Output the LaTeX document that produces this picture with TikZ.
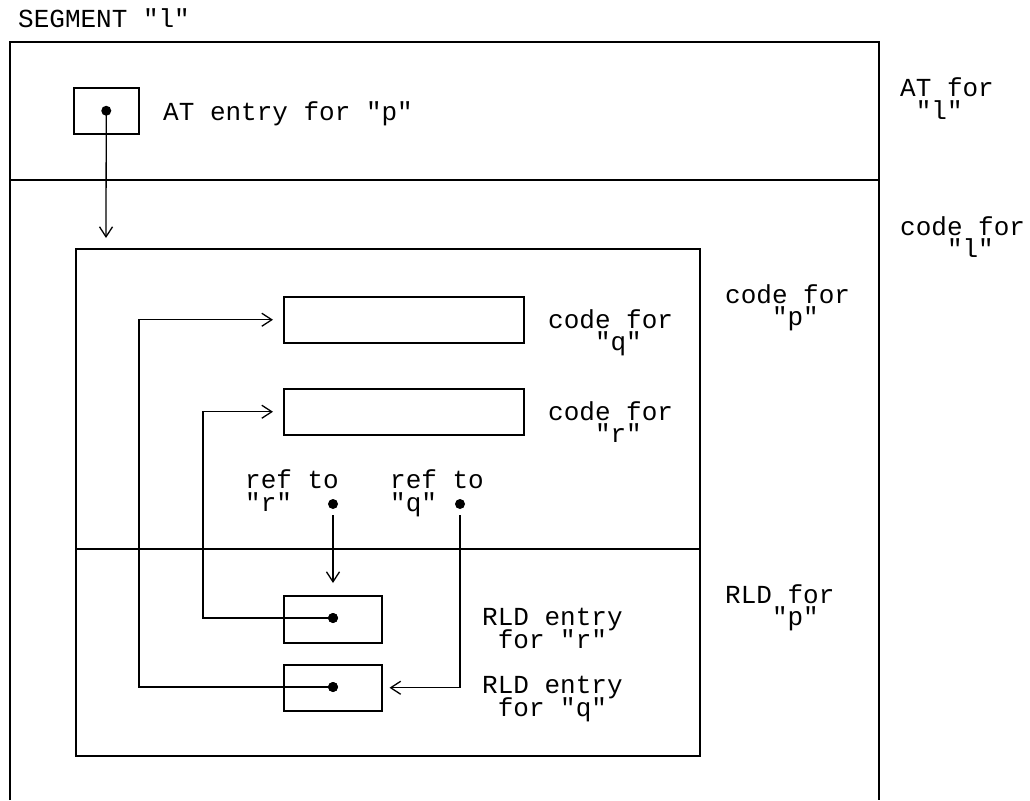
\documentclass[tikz,border=0pt]{standalone}
\usepackage{fontspec}
\setmonofont{Liberation Mono}
\usetikzlibrary{arrows.meta}
\begin{document}
\begin{tikzpicture}[x=1pt,y=-1pt,
  ln/.style={line width=1.5pt},
  box/.style={draw,line width=1.5pt,inner sep=0pt,anchor=north west},
  pt/.style={circle,fill=black,inner sep=0pt,minimum size=10pt},
  txt/.style={anchor=base west,inner sep=0pt,font=\ttfamily\fontsize{26}{26}\selectfont},
  arr/.style={line width=1.3pt,-{Straight Barb[length=10pt,width=13pt,line width=1.3pt]}}]
\useasboundingbox (0,0) rectangle (1030,800);
% outer segment frame (bottom edge off the page)
\draw[ln] (10,800) -- (10,42) -- (879,42) -- (879,800);
\draw[ln] (10,180) -- (879,180);
% inner box for code of p
\node[box,minimum width=624pt,minimum height=507pt] (inner) at (75,248) {};
\draw[ln] (75,549) -- (699,549);
% AT entry
\node[box,minimum width=65pt,minimum height=46pt] (atbox) at (73,87) {};
\node[pt] (atdot) at (atbox.center) {};
\coordinate (atend) at (106,238);
% code boxes
\node[box,minimum width=240pt,minimum height=46pt] (cq) at (283,296) {};
\node[box,minimum width=240pt,minimum height=46pt] (cr) at (283,388) {};
% RLD entry boxes
\node[box,minimum width=98pt,minimum height=47pt] (rr) at (283,595) {};
\node[box,minimum width=98pt,minimum height=46pt] (rq) at (283,664) {};
\node[pt] (drr) at (333,618) {};
\node[pt] (drq) at (333,687) {};
% ref dots
\node[pt] (refr) at (333,504) {};
\node[pt] (refq) at (460,504) {};
% texts
\node[txt] (seg) at (18,28) {SEGMENT "l"};
\node[txt] (atentry) at (163,120) {AT entry for "p"};
\node[txt] (atl1) at (900,96) {AT for};
\node[txt] (atl2) at (915.6,119) {"l"};
\node[txt] (codel1) at (900,235) {code for};
\node[txt] (codel2) at (946.8,257) {"l"};
\node[txt] (codeq1) at (548,328) {code for};
\node[txt] (codeq2) at (594.8,350) {"q"};
\node[txt] (coder1) at (548,420) {code for};
\node[txt] (coder2) at (594.8,442) {"r"};
\node[txt] (codep1) at (725,303) {code for};
\node[txt] (codep2) at (771.8,325) {"p"};
\node[txt] (rldp1) at (725,603) {RLD for};
\node[txt] (rldp2) at (771.8,625) {"p"};
\node[txt] (refr1) at (245,488) {ref to};
\node[txt] (refr2) at (245,511) {"r"};
\node[txt] (refq1) at (390,488) {ref to};
\node[txt] (refq2) at (390,511) {"q"};
\node[txt] (rer1) at (482,625) {RLD entry};
\node[txt] (rer2) at (497.6,648) {for "r"};
\node[txt] (req1) at (482,693) {RLD entry};
\node[txt] (req2) at (497.6,716) {for "q"};
% connectors
\draw[arr] (atdot.center) -- (atend);
\draw[arr,shorten >=10pt] (drq.center) -- (139,687) |- (cq.west);
\draw[arr,shorten >=10pt] (drr.center) -- (203,618) |- (cr.west);
\draw[arr,shorten <=6pt,shorten >=12pt] (refr.south) -- (rr.north -| refr);
\draw[arr,shorten <=6pt,shorten >=7pt] (refq.south) |- (rq.east);
\node[pt] at (drr) {};
\node[pt] at (drq) {};
\end{tikzpicture}
\end{document}
